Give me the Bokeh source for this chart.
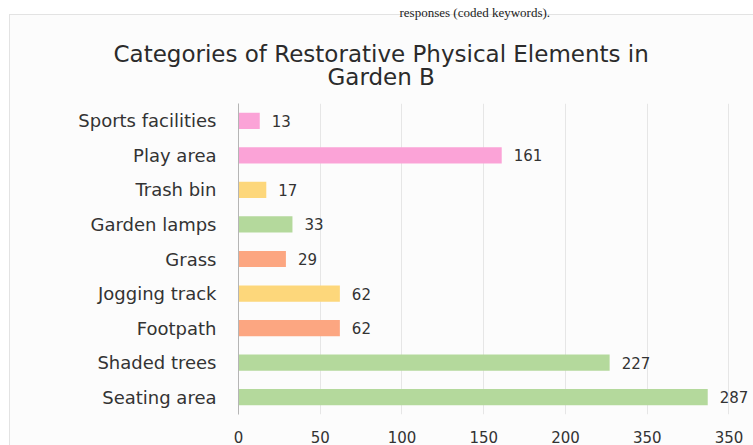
from bokeh.plotting import figure
from bokeh.models import FactorRange, Range1d, FixedTicker, Title, ColumnDataSource
from bokeh.core.properties import value
from bokeh.embed import file_html
from bokeh.resources import INLINE

# Restorative physical elements mentioned for Garden B (coded keywords)
categories = ["Sports facilities", "Play area", "Trash bin", "Garden lamps", "Grass",
              "Jogging track", "Footpath", "Shaded trees", "Seating area"]
counts = [13, 161, 17, 33, 29, 62, 62, 227, 287]
bar_colors = ["#fba3d7", "#fba3d7", "#fdd77b", "#b4d99c", "#fca681",
              "#fdd77b", "#fca681", "#b4d99c", "#b4d99c"]
tick_values = [0, 50, 100, 150, 200, 250, 300]
tick_labels = ["0", "50", "100", "150", "200", "350", "350"]
heading = ["Categories of Restorative Physical Elements in", "Garden B"]
page_text = "responses (coded keywords)."

FONT = "DejaVu Sans"
TEXT = "#333333"
W, H = 753, 445
LEFT, TOP, BOTTOM = 238, 103, 31

src = ColumnDataSource(dict(
    cat=categories,
    val=counts,
    label=[str(v) for v in counts],
    color=bar_colors,
))

p = figure(width=W, height=H, title=None,
           y_range=FactorRange(*reversed(categories)),
           x_range=Range1d(0, 315),
           output_backend="svg", toolbar_location=None,
           min_border_left=LEFT, min_border_right=0,
           min_border_top=TOP, min_border_bottom=BOTTOM)

# page background with a light card starting at (9, 14)
p.border_fill_color = None
p.background_fill_color = None
p.outline_line_color = None
p.styles = {
    "background": (
        "linear-gradient(#e3e3e3, #e3e3e3) 9px 14px / 2000px 1px no-repeat, "
        "linear-gradient(#e3e3e3, #e3e3e3) 9px 14px / 1px 2000px no-repeat, "
        "linear-gradient(#fcfcfc, #fcfcfc) 10px 15px / 2000px 2000px no-repeat, "
        "#ffffff"
    ),
}

p.hbar(y="cat", left=0, right="val", height=0.47, fill_color="color",
       line_color=None, source=src)
p.text(x="val", y="cat", text="label", x_offset=12, text_align="left",
       text_baseline="middle", text_font=value(FONT), text_font_size="15px",
       text_color=TEXT, source=src)

p.yaxis.axis_line_color = "#b5b5b5"
p.yaxis.major_tick_line_color = None
p.yaxis.minor_tick_line_color = None
p.yaxis.major_label_standoff = 16
p.yaxis.major_label_text_font = FONT
p.yaxis.major_label_text_font_size = "18px"
p.yaxis.major_label_text_color = TEXT

p.xaxis.ticker = FixedTicker(ticks=tick_values)
p.xaxis.major_label_overrides = dict(zip(tick_values, tick_labels))
p.xaxis.axis_line_color = None
p.xaxis.major_tick_line_color = None
p.xaxis.minor_tick_line_color = None
p.xaxis.major_label_standoff = 10
p.xaxis.major_label_text_font = FONT
p.xaxis.major_label_text_font_size = "15px"
p.xaxis.major_label_text_color = TEXT

p.xgrid.grid_line_color = "#e6e6e6"
p.ygrid.grid_line_color = None


def title_row(text, offset, size, standoff, font=FONT, color="#2b2b2b"):
    # title panels stack upward from the plot area in the order they are added
    p.add_layout(Title(text=text, align="left", offset=offset,
                       text_font=font, text_font_size=size,
                       text_font_style="normal", text_color=color,
                       standoff=standoff), "above")


title_row(" ", 0, "10px", 2.7)                      # gap above the bars
title_row(heading[1], 89, "23px", -4.8)             # "Garden B"
title_row(heading[0], -125, "23px", -4.8)           # first heading line
title_row(" ", 0, "10px", 9.0)                      # gap above the heading
title_row(page_text, 161, "13px", -0.4,
          font="Liberation Serif", color="#222222")  # running page text

open("out.html", "w").write(file_html(p, INLINE))
